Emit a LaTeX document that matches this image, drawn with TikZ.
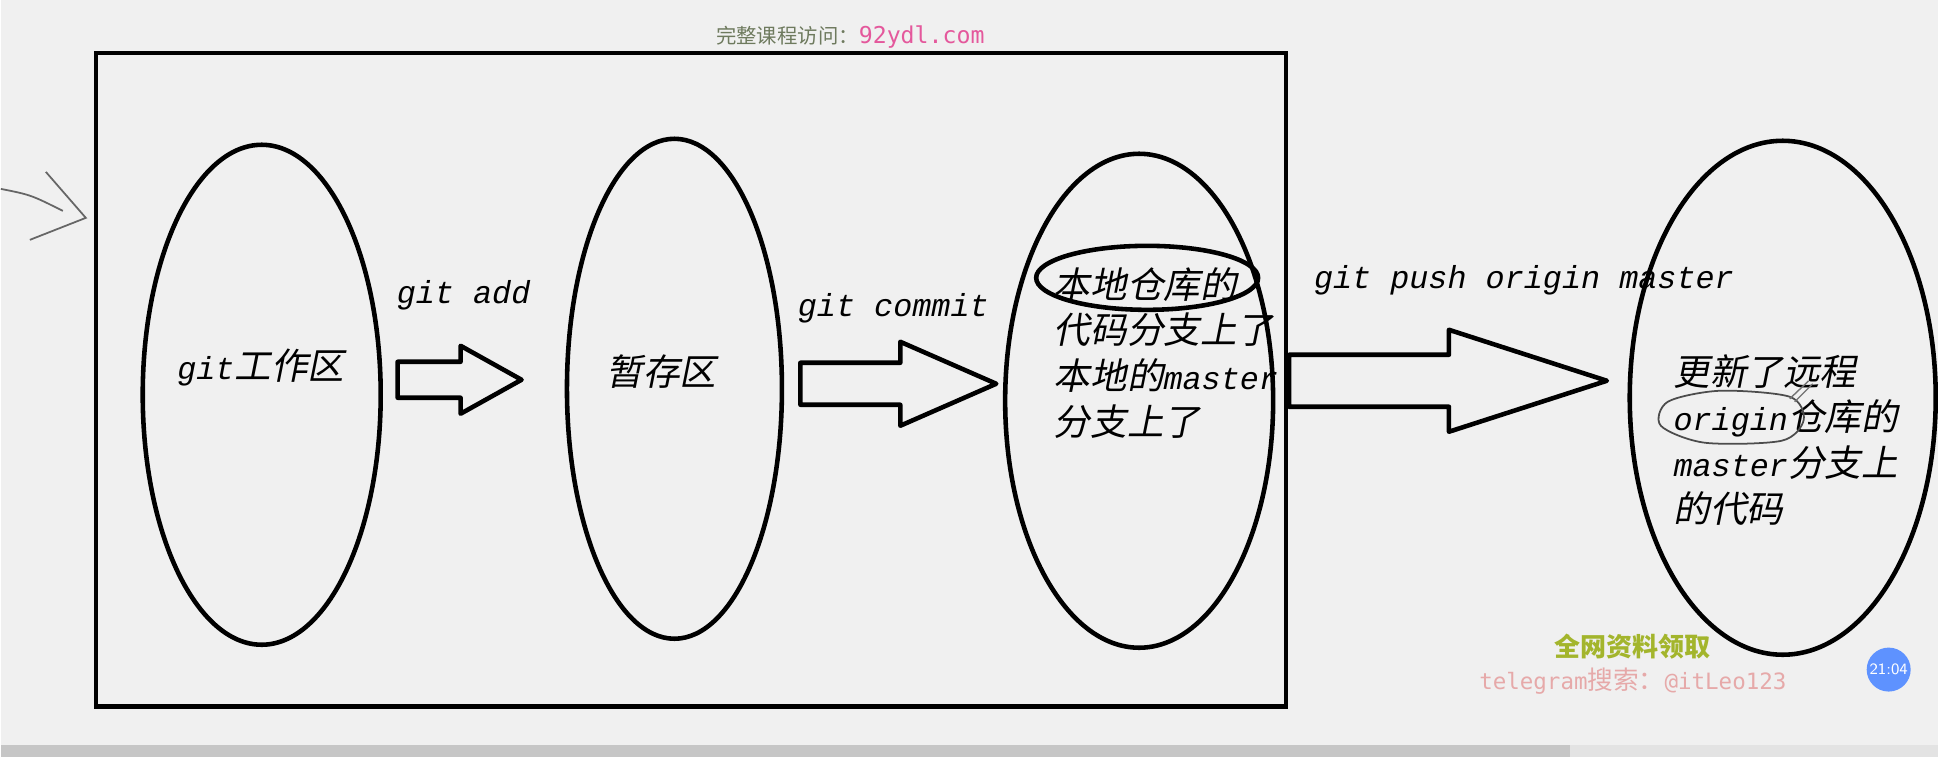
\documentclass[tikz,border=0pt]{standalone}
\usepackage{fontspec}
\usepackage{tikz}
\usepackage{xcolor}
\usetikzlibrary{shapes,arrows,positioning,calc}

\setmonofont{Liberation Mono}[Scale=0.87]
\newfontfamily\cjkfont{Noto Sans CJK SC}[FakeSlant=0.2]
\newfontfamily\cjkwm{Noto Sans CJK SC}
\newfontfamily\monowm{DejaVu Sans Mono}
\newcommand{\zh}[1]{{\cjkfont #1}}

\definecolor{bggray}{HTML}{F0F0F0}
\definecolor{wmgreen}{HTML}{6E7A5E}
\definecolor{wmpink}{HTML}{E4589C}
\definecolor{wmolive}{HTML}{A3B52C}
\definecolor{wmrose}{HTML}{E6A9A9}
\definecolor{dotblue}{HTML}{5E92FF}

\begin{document}
\begin{tikzpicture}[x=0.01cm, y=-0.01cm,
    area/.style={draw, ellipse, line width=1.3pt, inner sep=0pt},
    blockarrow/.style={draw, line width=1.3pt, fill=bggray, line join=round},
    cmd/.style={font=\fontsize{10.4}{13}\selectfont\ttfamily\itshape, inner sep=0pt},
    notes/.style={font=\fontsize{10.4}{13}\selectfont\ttfamily\itshape, align=left, anchor=west, inner sep=0pt}]

    % Background
    \fill[bggray] (0,0) rectangle (1938,757);
    \fill[gray!45] (0,745) rectangle (1570,757);
    \fill[gray!22] (1570,745) rectangle (1938,757);

    % Local frame
    \draw[line width=1.3pt] (95,53) rectangle (1286,707);

    % Areas
    \node[area, minimum width=2.38cm, minimum height=5.00cm] (work) at (261,395) {};
    \node[area, minimum width=2.15cm, minimum height=5.00cm] (stage) at (674,389) {};
    \node[area, minimum width=2.68cm, minimum height=4.94cm] (local) at (1139,401) {};
    \node[area, minimum width=3.06cm, minimum height=5.14cm] (remote) at (1783,398) {};

    % Block arrows
    \foreach \xa/\xb/\xc/\ym/\s/\h in {397/460/521/380/18/34, 800/900/996/384/21/42, 1289/1449/1607/381/26/51}
        \draw[blockarrow] (\xa,\ym-\s) -- (\xb,\ym-\s) -- (\xb,\ym-\h) -- (\xc,\ym)
            -- (\xb,\ym+\h) -- (\xb,\ym+\s) -- (\xa,\ym+\s) -- cycle;

    % Commands
    \node[cmd] (addlbl) at (463,295) {git add};
    \node[cmd] (commitlbl) at (893,308) {git commit};
    \node[cmd] (pushlbl) at (1524,280) {git push origin master};

    % Area texts
    \node[cmd] (worklbl) at (260,368) {git\zh{工作区}};
    \node[cmd] (stagelbl) at (661,372) {\zh{暂存区}};
    \node[notes] (localtxt) at (1053,353) {\zh{本地仓库的}\\\zh{代码分支上了}\\\zh{本地的}master\\\zh{分支上了}};
    \node[notes] (remotetxt) at (1673,440) {\zh{更新了远程}\\origin\zh{仓库的}\\master\zh{分支上}\\\zh{的代码}};

    % Marks
    \node[draw, ellipse, line width=1.3pt, minimum width=2.22cm, minimum height=0.64cm] (mark) at (1147,278) {};
    \draw[black!70, line width=0.5pt] plot[smooth cycle] coordinates {(1668,402) (1720,391) (1790,397) (1804,420) (1782,441) (1705,443) (1661,426)};
    \draw[black!55, line width=0.4pt] (1790,399) -- (1809,381) (1795,402) -- (1813,384);
    \draw[black!60, line width=0.5pt] (0,189) .. controls (30,195) .. (62,211);
    \draw[black!60, line width=0.5pt] (45,172) -- (85,218) -- (29,240);

    % Watermarks
    \node (site) at (850,37) {\fontsize{5.8}{7}\cjkwm\color{wmgreen}完整课程访问：\fontsize{6.6}{7}\monowm\color{wmpink}92ydl.com};
    \node (free) at (1633,647) {\fontsize{7.4}{9}\cjkwm\bfseries\color{wmolive}全网资料领取};
    \node (tg) at (1633,682) {\color{wmrose}\fontsize{6.4}{8}\monowm telegram\fontsize{7.3}{8}\cjkwm 搜索：\fontsize{6.4}{8}\monowm @itLeo123};
    \fill[dotblue] (1889,670) circle[radius=22];
    \node[white, font=\fontsize{4.5}{5}\sffamily] (clock) at (1889,670) {21:04};
\end{tikzpicture}
\end{document}
